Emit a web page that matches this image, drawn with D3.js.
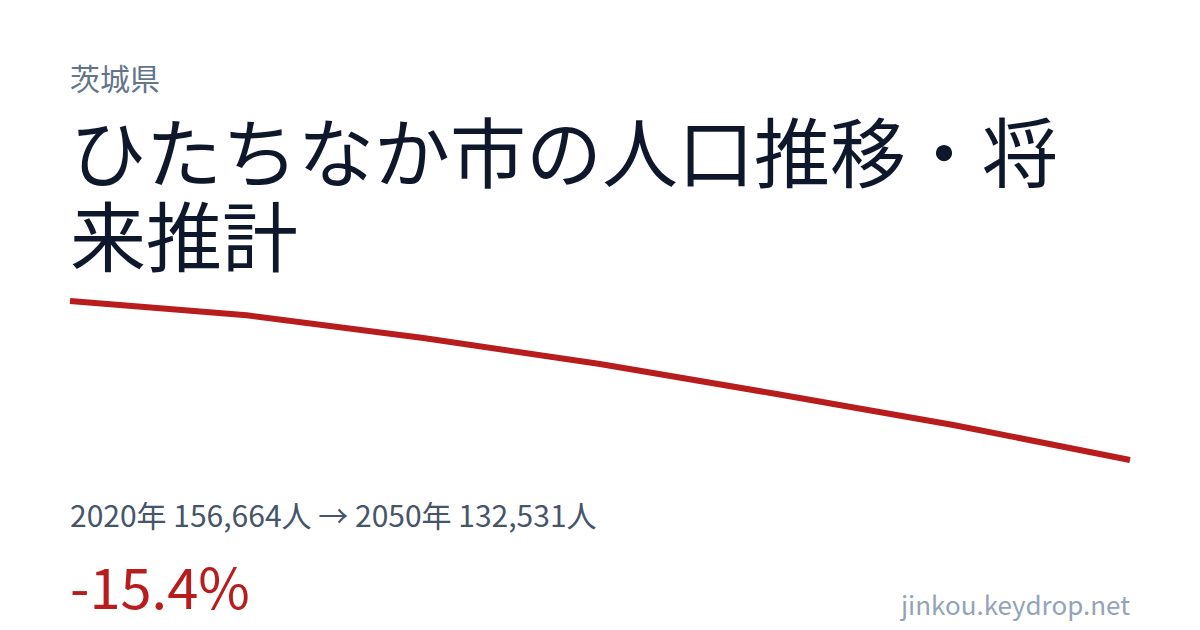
<!DOCTYPE html>
<html>
<head>
<meta charset="utf-8">
<script src="https://cdn.jsdelivr.net/npm/d3@7"></script>
<style>
  html, body { margin: 0; padding: 0; background: #fff; }
  svg { display: block; font-family: "Noto Sans CJK JP", "Noto Sans", sans-serif; }
</style>
</head>
<body>
<script>
// population (人), 2020-2050 every 5 years
const years = [2020, 2025, 2030, 2035, 2040, 2045, 2050];
const population = [156664, 154500, 151050, 147100, 142550, 137850, 132531];
const prefecture = "茨城県";
const title = "ひたちなか市の人口推移・将来推計";
const siteName = "jinkou.keydrop.net";

const width = 1200, height = 630;
const left = 70, right = 1130;

const svg = d3.select("body").append("svg")
    .attr("width", width).attr("height", height);

svg.append("text")
    .attr("x", left).attr("y", 90)
    .attr("font-size", 30).attr("fill", "#64748b")
    .text(prefecture);

// title, wrapped by measuring each char
const titleText = svg.append("text")
    .attr("x", left).attr("y", 182)
    .attr("font-size", 76).attr("fill", "#0f172a");
let line = "", lines = [];
const probe = titleText.append("tspan");
for (const ch of title) {
  probe.text(line + ch);
  if (probe.node().getComputedTextLength() > right - left && line) {
    lines.push(line);
    line = ch;
  } else {
    line += ch;
  }
}
lines.push(line);
probe.remove();
titleText.selectAll("tspan").data(lines).enter().append("tspan")
    .attr("x", left)
    .attr("dy", (d, i) => i === 0 ? 0 : 84)
    .text(d => d);

const x = d3.scaleLinear()
    .domain(d3.extent(years))
    .range([left, right]);
const y = d3.scaleLinear()
    .domain(d3.extent(population))
    .range([460, 301]);

const lineGen = d3.line()
    .x((d, i) => x(years[i]))
    .y(d => y(d));

svg.append("path")
    .datum(population)
    .attr("d", lineGen)
    .attr("fill", "none")
    .attr("stroke", "#b91c1c")
    .attr("stroke-width", 6)
    .attr("stroke-linejoin", "round");

const fmt = d3.format(",");
const first = population[0], last = population[population.length - 1];

svg.append("text")
    .attr("x", left).attr("y", 527)
    .attr("font-size", 30).attr("fill", "#475569")
    .text(years[0] + "年 " + fmt(first) + "人 → " + years[years.length - 1] + "年 " + fmt(last) + "人");

const pct = (last - first) / first * 100;
svg.append("text")
    .attr("x", left).attr("y", 609)
    .attr("font-size", 56).attr("fill", "#b91c1c")
    .text((pct < 0 ? "-" : "+") + Math.abs(pct).toFixed(1) + "%");

svg.append("text")
    .attr("x", right).attr("y", 615)
    .attr("text-anchor", "end")
    .attr("font-size", 26).attr("fill", "#94a3b8")
    .text(siteName);
</script>
</body>
</html>
